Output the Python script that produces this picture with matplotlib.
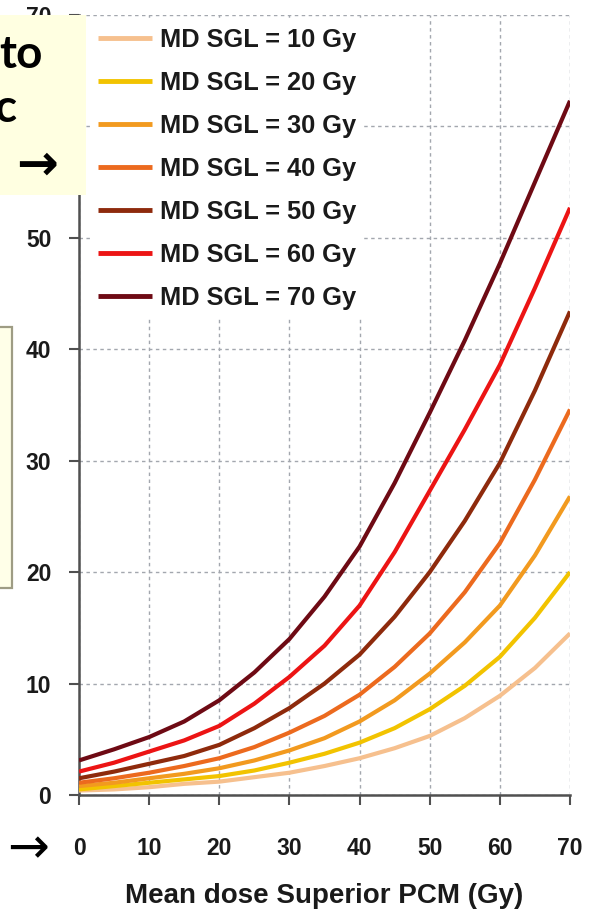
import matplotlib
matplotlib.use("Agg")
import matplotlib.pyplot as plt
from matplotlib.patches import Rectangle

# ---- data ----
dose_pcm = [0, 5, 10, 15, 20, 25, 30, 35, 40, 45, 50, 55, 60, 65, 70]
series_labels = ["MD SGL = 10 Gy", "MD SGL = 20 Gy", "MD SGL = 30 Gy", "MD SGL = 40 Gy",
                 "MD SGL = 50 Gy", "MD SGL = 60 Gy", "MD SGL = 70 Gy"]
sgl10 = [0.4, 0.5, 0.7, 1.0, 1.2, 1.6, 2.0, 2.6, 3.3, 4.2, 5.3, 6.9, 8.9, 11.4, 14.5]
sgl20 = [0.5, 0.8, 1.1, 1.4, 1.7, 2.2, 2.9, 3.7, 4.7, 6.0, 7.7, 9.8, 12.4, 15.9, 20.0]
sgl30 = [0.8, 1.1, 1.5, 1.9, 2.4, 3.1, 4.0, 5.1, 6.6, 8.5, 10.9, 13.7, 17.0, 21.5, 26.8]
sgl40 = [1.1, 1.5, 2.0, 2.6, 3.3, 4.3, 5.6, 7.1, 9.0, 11.5, 14.5, 18.2, 22.6, 28.3, 34.6]
sgl50 = [1.5, 2.1, 2.8, 3.5, 4.5, 6.0, 7.8, 10.0, 12.6, 16.0, 20.0, 24.6, 29.8, 36.3, 43.4]
sgl60 = [2.1, 2.9, 3.9, 4.9, 6.2, 8.2, 10.6, 13.4, 17.0, 21.8, 27.3, 32.8, 38.6, 45.5, 52.7]
sgl70 = [3.1, 4.1, 5.2, 6.6, 8.5, 11.0, 14.0, 17.8, 22.3, 28.0, 34.3, 40.8, 47.7, 55.0, 62.3]
series = [sgl10, sgl20, sgl30, sgl40, sgl50, sgl60, sgl70]
colors = ["#F6C08E", "#F2C300", "#F29A1F", "#EC6A1E", "#8E2A0C", "#EC1414", "#6E0A14"]
x_ticks = [0, 10, 20, 30, 40, 50, 60, 70]
y_ticks = [0, 10, 20, 30, 40, 50, 60, 70]
x_label = "Mean dose Superior PCM (Gy)"

W, H = 590, 918
fig = plt.figure(figsize=(W / 100, H / 100), dpi=100)
fig.patch.set_facecolor("white")
ax = fig.add_axes([79 / W, 1 - 795 / H, (570 - 79) / W, (795 - 15) / H])

for vals, lab, c in zip(series, series_labels, colors):
    ax.plot(dose_pcm, vals, color=c, lw=3.0, label=lab, solid_capstyle="butt",
            solid_joinstyle="round", zorder=3)

ax.set_xlim(0, 70)
ax.set_ylim(0, 70)
ax.set_xticks(x_ticks)
ax.set_yticks(y_ticks)
ax.grid(True, color="#a3a7ae", lw=1.0, linestyle=(0, (2.5, 2.5)), zorder=0)
for s in ["top", "right"]:
    ax.spines[s].set_visible(False)
for s in ["left", "bottom"]:
    ax.spines[s].set_color("#505050")
    ax.spines[s].set_linewidth(1.8)
ax.tick_params(axis="both", direction="out", length=7, width=1.5, color="#505050",
               labelcolor="#1a1a1a")
ax.tick_params(axis="x", pad=23)
ax.tick_params(axis="y", pad=13)
for t in ax.get_xticklabels() + ax.get_yticklabels():
    t.set_fontfamily("Liberation Sans")
    t.set_fontweight("bold")
    t.set_fontsize(16.5)
ax.set_xlabel(x_label, fontfamily="Liberation Sans", fontweight="bold", fontsize=20,
              color="#1a1a1a", labelpad=17)

leg = ax.legend(loc="upper left", bbox_to_anchor=(90 / W, 1 - 20 / H),
                bbox_transform=fig.transFigure, frameon=True, fancybox=False,
                facecolor="white", edgecolor="none", framealpha=1.0,
                borderpad=0.3, borderaxespad=0, handlelength=2.15, handletextpad=0.3,
                labelspacing=0.75,
                prop={"family": "Liberation Sans", "weight": "bold", "size": 18.3})
for h in leg.get_lines():
    h.set_linewidth(3.5)
for t in leg.get_texts():
    t.set_color("#1a1a1a")
leg.set_zorder(5)

# ---- overlay boxes from the slide ----
fig.patches.append(Rectangle((0, 1 - 195 / H), 86 / W, 180 / H, transform=fig.transFigure,
                             facecolor="#FFFFE1", edgecolor="none", zorder=10))
fig.patches.append(Rectangle((-5 / W, 1 - 588 / H), 17 / W, 261 / H, transform=fig.transFigure,
                             facecolor="#FFFFE8", edgecolor="#9E9C84", lw=1.6, zorder=10))
fig.text(43 / W, 1 - 68 / H, "to", ha="right", va="baseline", fontsize=33,
         family=["Lato", "DejaVu Sans"], fontweight="bold", color="black", zorder=11)
fig.text(17 / W, 1 - 122 / H, "c", ha="right", va="baseline", fontsize=33,
         family=["Lato", "DejaVu Sans"], fontweight="bold", color="black", zorder=11)
fig.text(37 / W, 1 - 166 / H, "\u2192", ha="center", va="center", fontsize=36,
         family=["DejaVu Sans"], fontweight="bold", color="black", zorder=11)
fig.text(28 / W, 1 - 849 / H, "\u2192", ha="center", va="center", fontsize=36,
         family=["DejaVu Sans"], color="black", zorder=11)

fig.savefig("out.png", dpi=100, facecolor="white")
